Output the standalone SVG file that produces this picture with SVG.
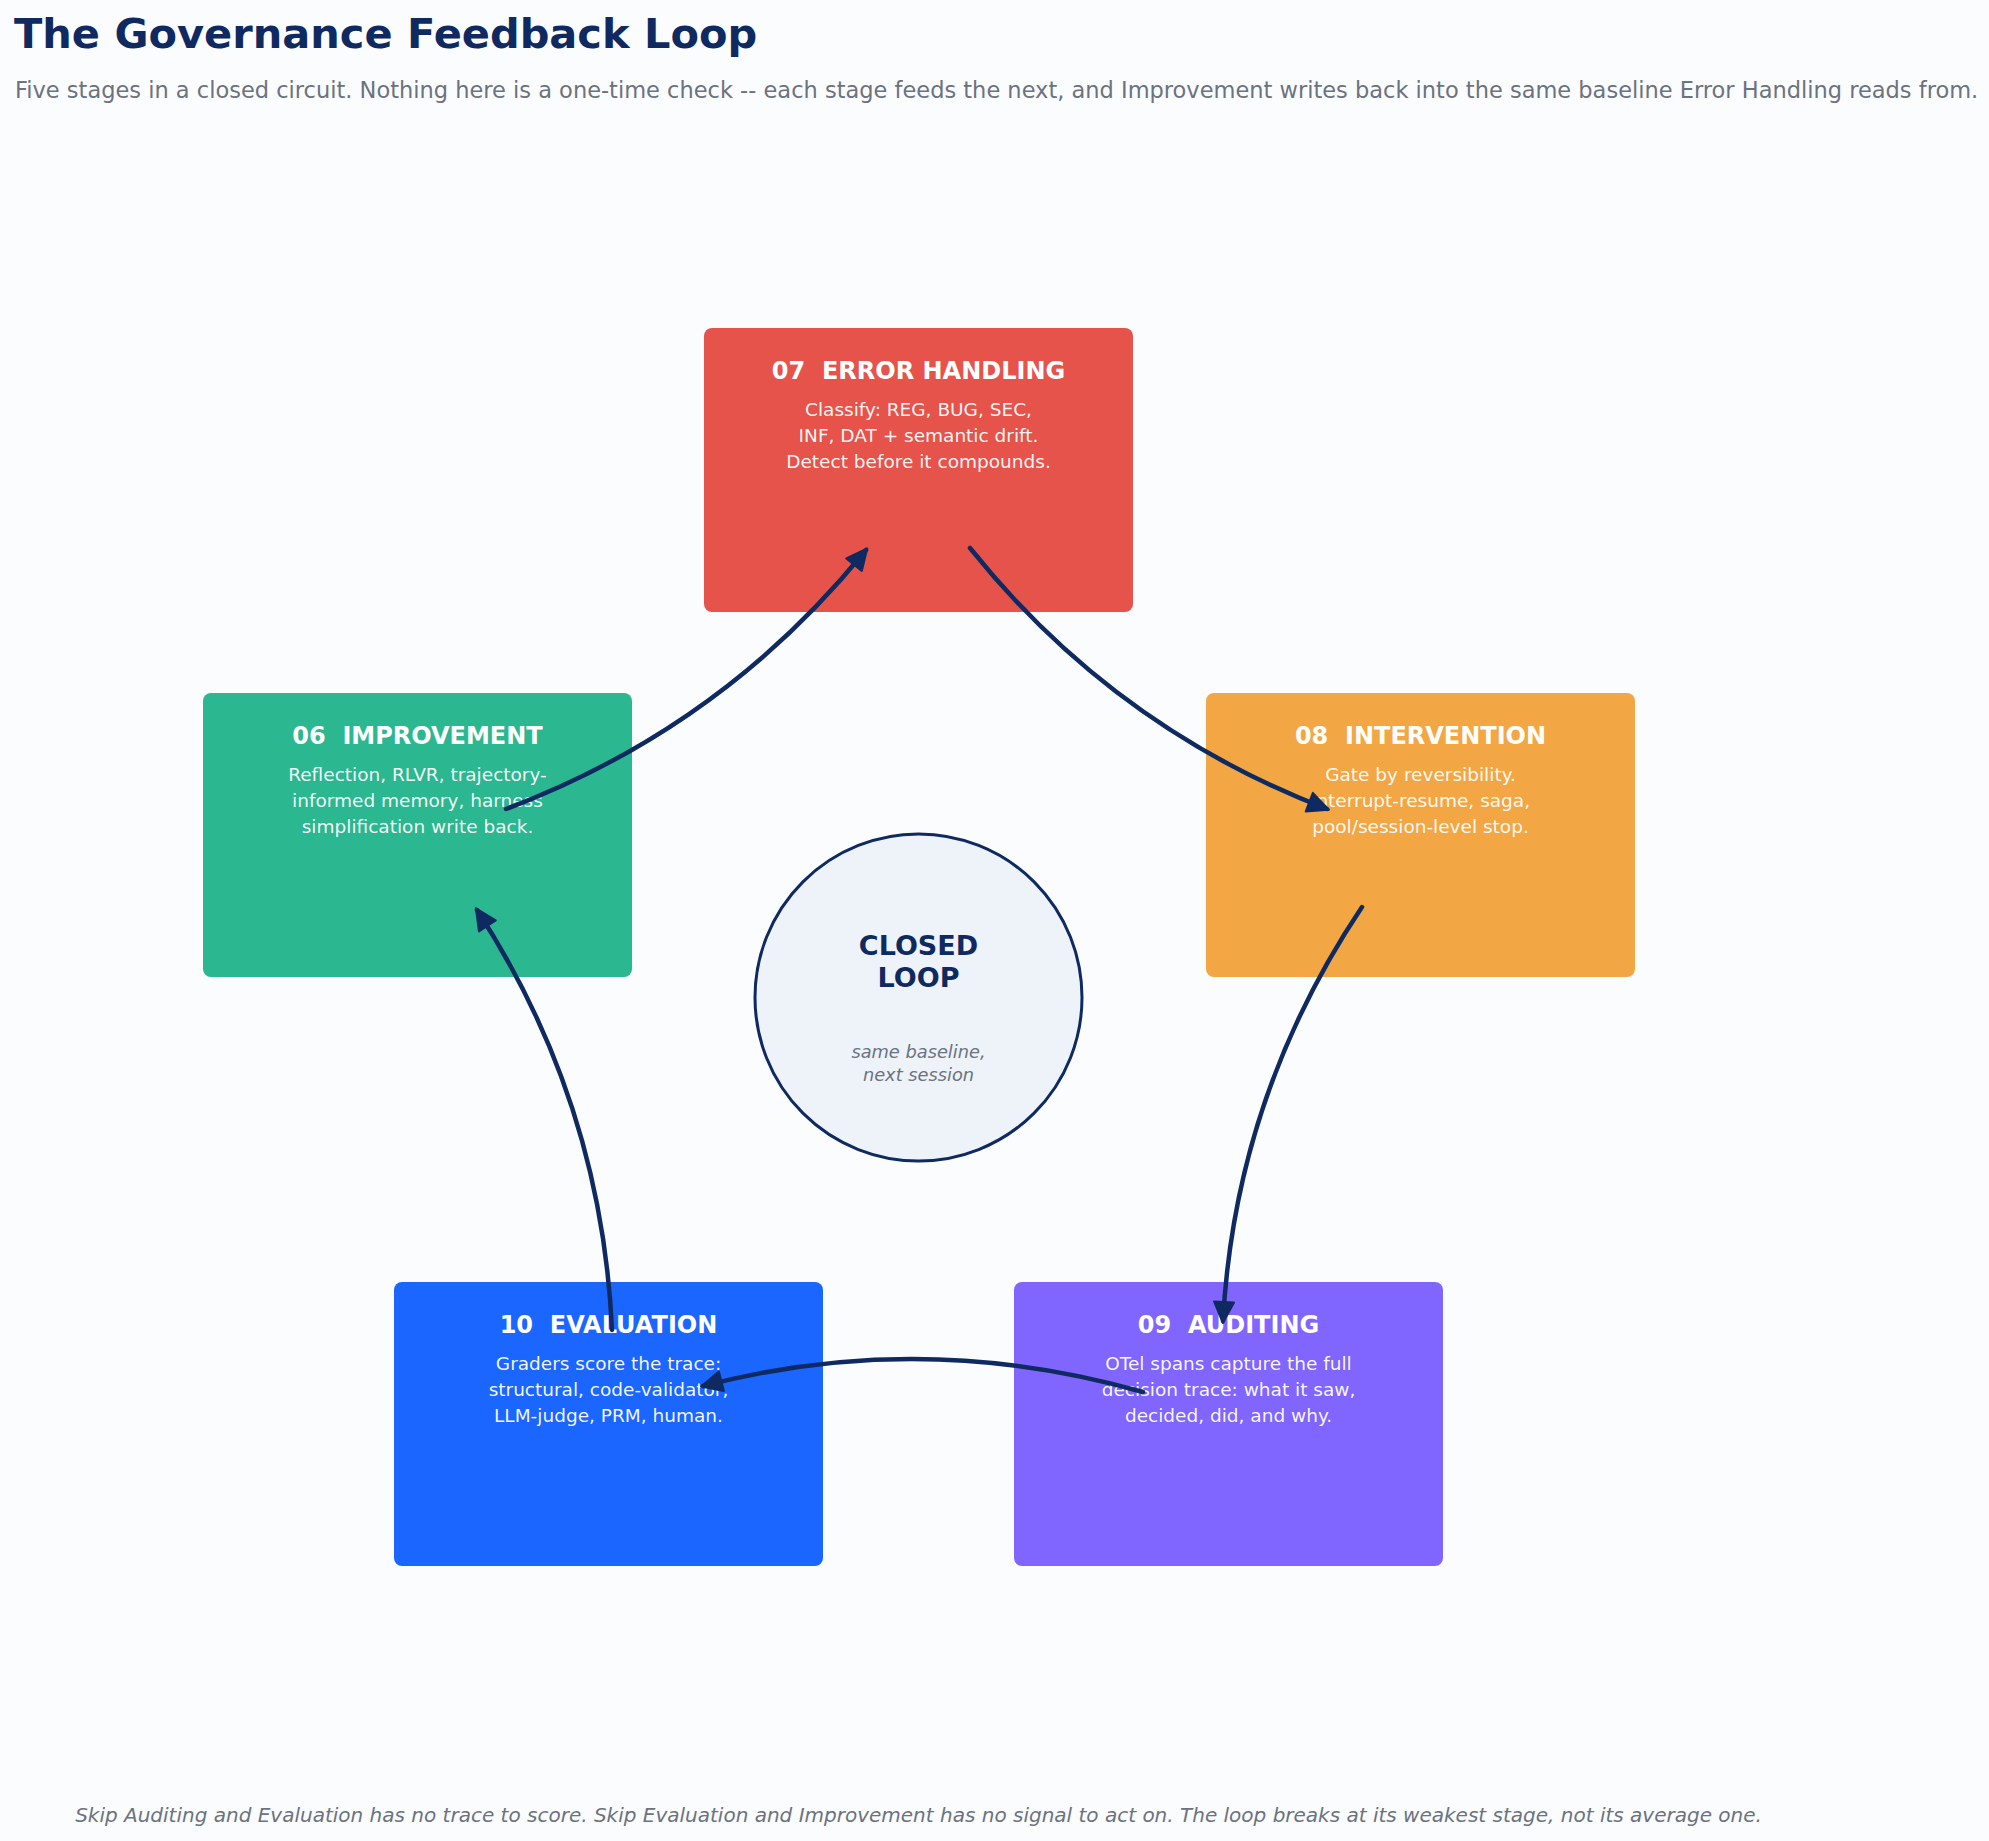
<svg xmlns="http://www.w3.org/2000/svg" width="1989" height="1841" viewBox="0 0 1989 1841">
  <style>
    text { font-family: "DejaVu Sans", "Liberation Sans", sans-serif; white-space: pre; }
    .title { font-size: 41.5px; font-weight: bold; fill: #0f2a60; }
    .sub { font-size: 22.5px; fill: #6b7280; }
    .foot { font-size: 20px; font-style: italic; fill: #6b7280; }
    .ntitle { font-size: 24px; font-weight: bold; fill: #ffffff; text-anchor: middle; }
    .nbody { font-size: 18.5px; fill: #ffffff; fill-opacity: 0.95; text-anchor: middle; }
    .box { stroke: none; }
    .ctitle { font-size: 27px; font-weight: bold; fill: #0f2a60; text-anchor: middle; }
    .csub { font-size: 17.8px; font-style: italic; fill: #6b7280; text-anchor: middle; }
    .conn { fill: none; stroke: #0f2a60; stroke-width: 4.5; stroke-linecap: round; }
  </style>
  <defs>
    <marker id="arrow" viewBox="0 0 26 24" refX="21" refY="12" markerWidth="26" markerHeight="24" markerUnits="userSpaceOnUse" orient="auto">
      <path d="M2,2 L23,12 L2,22 Z" fill="#0f2a60" stroke="#0f2a60" stroke-width="2" stroke-linejoin="round"/>
    </marker>
  </defs>
  <rect x="0" y="0" width="1989" height="1841" fill="#fbfcfe"/>

  <text class="title" x="14" y="48">The Governance Feedback Loop</text>
  <text class="sub" x="15" y="98">Five stages in a closed circuit. Nothing here is a one-time check -- each stage feeds the next, and Improvement writes back into the same baseline Error Handling reads from.</text>

  <g id="node-error-handling">
    <rect class="box" x="704" y="328" width="429" height="284" rx="8" fill="#e5534b"/>
    <text class="ntitle" x="918.5" y="379">07  ERROR HANDLING</text>
    <text class="nbody" x="918.5" y="416">Classify: REG, BUG, SEC,</text>
    <text class="nbody" x="918.5" y="442">INF, DAT + semantic drift.</text>
    <text class="nbody" x="918.5" y="468">Detect before it compounds.</text>
  </g>

  <g id="node-improvement">
    <rect class="box" x="203" y="693" width="429" height="284" rx="8" fill="#2bb78f"/>
    <text class="ntitle" x="417.5" y="744">06  IMPROVEMENT</text>
    <text class="nbody" x="417.5" y="781">Reflection, RLVR, trajectory-</text>
    <text class="nbody" x="417.5" y="807">informed memory, harness</text>
    <text class="nbody" x="417.5" y="833">simplification write back.</text>
  </g>

  <g id="node-intervention">
    <rect class="box" x="1206" y="693" width="429" height="284" rx="8" fill="#f2a644"/>
    <text class="ntitle" x="1420.5" y="744">08  INTERVENTION</text>
    <text class="nbody" x="1420.5" y="781">Gate by reversibility.</text>
    <text class="nbody" x="1420.5" y="807">Interrupt-resume, saga,</text>
    <text class="nbody" x="1420.5" y="833">pool/session-level stop.</text>
  </g>

  <g id="node-evaluation">
    <rect class="box" x="394" y="1282" width="429" height="284" rx="8" fill="#1a66ff"/>
    <text class="ntitle" x="608.5" y="1333">10  EVALUATION</text>
    <text class="nbody" x="608.5" y="1370">Graders score the trace:</text>
    <text class="nbody" x="608.5" y="1396">structural, code-validator,</text>
    <text class="nbody" x="608.5" y="1422">LLM-judge, PRM, human.</text>
  </g>

  <g id="node-auditing">
    <rect class="box" x="1014" y="1282" width="429" height="284" rx="8" fill="#8065ff"/>
    <text class="ntitle" x="1228.5" y="1333">09  AUDITING</text>
    <text class="nbody" x="1228.5" y="1370">OTel spans capture the full</text>
    <text class="nbody" x="1228.5" y="1396">decision trace: what it saw,</text>
    <text class="nbody" x="1228.5" y="1422">decided, did, and why.</text>
  </g>

  <g id="node-closed-loop">
    <circle cx="918.5" cy="997.5" r="163.5" fill="#eef2f9" stroke="#0f2a60" stroke-width="3"/>
    <text class="ctitle" x="918.5" y="955">CLOSED</text>
    <text class="ctitle" x="918.5" y="987">LOOP</text>
    <text class="csub" x="918.5" y="1058">same baseline,</text>
    <text class="csub" x="918.5" y="1081">next session</text>
  </g>

  <g id="connectors">
    <path class="conn" marker-end="url(#arrow)" d="M506,809 Q721.5,727.9 866,550"/>
    <path class="conn" marker-end="url(#arrow)" d="M970,548 Q1113.4,727.1 1327,809"/>
    <path class="conn" marker-end="url(#arrow)" d="M1362,907 Q1235.2,1096.1 1223,1321"/>
    <path class="conn" marker-end="url(#arrow)" d="M1143,1392 Q922.3,1329 703,1386"/>
    <path class="conn" marker-end="url(#arrow)" d="M612,1330 Q601.5,1101.3 477,910"/>
  </g>

  <text class="foot" x="918.5" y="1822" text-anchor="middle">Skip Auditing and Evaluation has no trace to score. Skip Evaluation and Improvement has no signal to act on. The loop breaks at its weakest stage, not its average one.</text>
</svg>
